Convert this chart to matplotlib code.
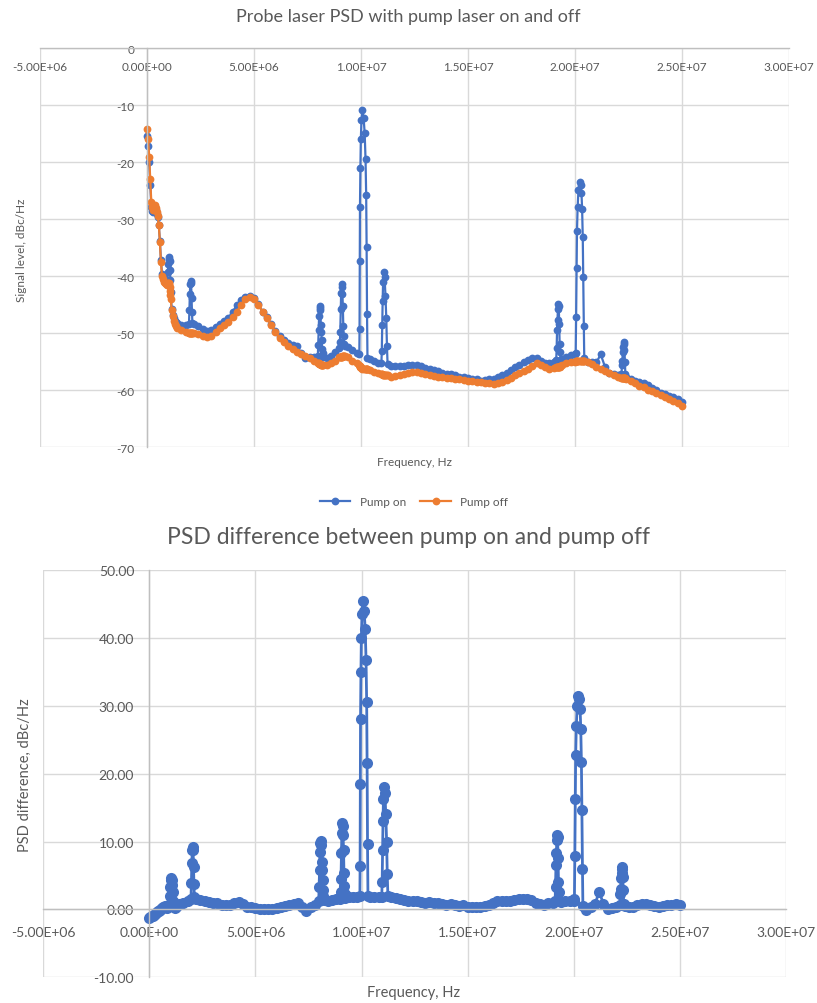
import numpy as np
import matplotlib
matplotlib.use('Agg')
import matplotlib.pyplot as plt

plt.rcParams['font.family'] = ['Lato', 'DejaVu Sans']

#- DATA (frequency in MHz, levels in dBc/Hz)
# low-frequency region, 50 kHz steps
freq_start = np.round(np.arange(0, 1.36, 0.05), 2)
off_start = [-14.2, -16.0, -19.0, -23.0, -27.0, -27.8, -28.3, -27.5, -28.0, -28.8,
             -29.5, -31.0, -34.0, -37.5, -40.0, -40.5, -41.0, -41.2, -41.3, -41.5,
             -41.5, -42.5, -44.5, -46.0, -47.0, -47.8, -48.4, -48.8]
diff_start = [-1.2, -1.1, -1.0, -0.9, -0.8, -0.7, -0.5, -0.4, -0.3, -0.2,
              -0.1, 0.0, 0.2, 0.3, 0.4, 0.5, 0.3, 0.2, 0.5, 0.8,
              1.0, 1.0, 1.0, 0.3, 0.2, 0.4, 0.6, 0.7]

# main region, 200 kHz steps
freq_main = np.round(np.arange(1.4, 25.01, 0.2), 1)
off_main = [-49.0, -49.5, -49.8, -50.0, -50.0, -50.2, -50.5, -50.7, -50.5, -49.8,
            -49.0, -48.5, -48.0, -47.2, -46.2, -45.0, -44.0, -43.7, -44.0, -45.0,
            -46.2, -47.3, -48.5, -49.8, -50.8, -51.6, -52.3, -52.8, -53.3, -53.7,
            -54.0, -54.4, -54.8, -55.2, -55.5, -55.6, -55.3, -54.8, -54.2, -54.0,
            -54.2, -54.8, -55.3, -55.8, -56.0, -56.4, -56.8, -57.0, -57.2, -57.4,
            -57.6, -57.5, -57.3, -57.1, -56.9, -56.8, -56.8, -56.9, -57.1, -57.3,
            -57.5, -57.6, -57.7, -57.8, -57.9, -58.0, -58.1, -58.2, -58.3, -58.4,
            -58.5, -58.6, -58.7, -58.8, -58.9, -58.8, -58.6, -58.2, -57.8, -57.4,
            -57.0, -56.6, -56.2, -55.7, -55.3, -55.6, -56.0, -56.2, -56.1, -55.9,
            -55.6, -55.3, -55.1, -55.0, -54.9, -54.8, -55.0, -55.4, -55.9, -56.3,
            -56.7, -57.0, -57.3, -57.6, -57.8, -58.1, -58.4, -58.8, -59.2, -59.5,
            -59.9, -60.2, -60.5, -60.8, -61.2, -61.6, -61.9, -62.3, -62.7]
diff_main = [0.8, 1.0, 1.3, 1.5, 1.6, 1.4, 1.2, 1.1, 1.0, 0.9,
             0.7, 0.6, 0.7, 1.0, 1.1, 0.8, 0.4, 0.3, 0.2, 0.1,
             0.0, 0.1, 0.1, 0.2, 0.3, 0.5, 0.6, 0.8, 1.0, 0.3,
             -0.3, 0.3, 0.6, 1.0, 1.3, 1.2, 1.4, 1.6, 1.6, 1.7,
             1.8, 1.9, 1.9, 1.9, 1.9, 1.9, 1.9, 1.8, 1.9, 1.9,
             1.9, 1.7, 1.5, 1.4, 1.3, 1.3, 1.2, 1.1, 1.0, 1.1,
             1.0, 0.9, 0.8, 0.7, 0.8, 0.6, 0.5, 0.6, 0.4, 0.3,
             0.4, 0.3, 0.5, 0.7, 0.9, 1.2, 1.3, 1.2, 1.3, 1.4,
             1.5, 1.6, 1.6, 1.4, 1.0, 0.8, 0.7, 0.9, 1.0, 1.1,
             1.1, 1.2, 1.3, 1.3, 1.0, 0.3, -0.1, 0.3, 0.8, 2.6,
             0.8, 0.0, 0.2, 0.3, 0.4, 0.5, 0.4, 0.4, 0.6, 0.8,
             0.8, 0.6, 0.5, 0.4, 0.5, 0.6, 0.7, 0.8, 0.6]

# pump-induced peaks, finer sampling
peak_freq = [
    [0.97, 0.99, 1.01, 1.03, 1.05, 1.07, 1.09, 1.11],
    [1.96, 1.98, 2.00, 2.02, 2.04, 2.06, 2.08, 2.10, 2.12],
    [7.98, 8.00, 8.02, 8.04, 8.06, 8.08, 8.10, 8.12, 8.14, 8.16, 8.18, 8.20, 8.22],
    [8.99, 9.01, 9.03, 9.05, 9.07, 9.09, 9.11, 9.13, 9.15, 9.17, 9.19, 9.21, 9.23],
    [9.92, 9.93, 9.94, 9.95, 9.97, 9.99, 10.02, 10.06, 10.12, 10.17, 10.21, 10.24, 10.26, 10.28, 10.30],
    [10.95, 10.97, 10.99, 11.01, 11.03, 11.06, 11.10, 11.14, 11.18, 11.21, 11.24],
    [19.12, 19.14, 19.16, 19.18, 19.20, 19.22, 19.24, 19.26, 19.28, 19.30, 19.32],
    [20.03, 20.05, 20.07, 20.09, 20.12, 20.16, 20.21, 20.26, 20.30, 20.33, 20.36, 20.38, 20.41, 20.43],
    [22.17, 22.19, 22.21, 22.23, 22.25, 22.27, 22.29, 22.31, 22.33, 22.35],
]
peak_off = [
    [-41.2, -41.2, -41.2, -41.3, -41.8, -42.5, -43.2, -44.0],
    [-49.9, -49.9, -50.0, -50.0, -50.0, -50.0, -50.0, -50.0, -50.0],
    [-55.3, -55.3, -55.3, -55.4, -55.4, -55.4, -55.4, -55.5, -55.5, -55.5, -55.5, -55.5, -55.5],
    [-54.2, -54.2, -54.2, -54.1, -54.1, -54.1, -54.1, -54.0, -54.0, -54.0, -54.0, -54.0, -54.0],
    [-55.6, -55.7, -55.8, -55.9, -56.0, -56.0, -56.1, -56.2, -56.2, -56.2, -56.3, -56.3, -56.3, -56.3, -56.3],
    [-57.2, -57.2, -57.2, -57.3, -57.3, -57.3, -57.3, -57.4, -57.4, -57.4, -57.4],
    [-55.9, -55.9, -55.9, -55.9, -55.9, -55.9, -55.9, -55.9, -55.9, -55.8, -55.8],
    [-54.9, -54.9, -54.9, -54.9, -54.9, -54.9, -54.9, -54.9, -54.9, -54.8, -54.8, -54.8, -54.8, -54.8],
    [-57.8, -57.8, -57.8, -57.8, -57.8, -57.8, -57.8, -57.8, -57.9, -57.9],
]
peak_diff = [
    [2.0, 3.3, 4.3, 4.7, 4.4, 3.6, 2.5, 1.2],
    [1.6, 3.9, 6.9, 8.7, 9.2, 8.8, 6.2, 3.7, 1.8],
    [1.3, 3.3, 5.8, 8.4, 9.8, 10.1, 9.5, 7.0, 5.8, 4.4, 2.8, 2.0, 1.4],
    [1.6, 2.6, 4.5, 8.3, 11.2, 12.7, 12.3, 10.9, 8.7, 5.3, 3.5, 2.2, 1.7],
    [2.0, 6.4, 18.5, 28.0, 35.0, 40.0, 43.5, 45.4, 44.0, 41.3, 36.8, 30.5, 21.5, 9.7, 2.0],
    [1.9, 4.1, 8.7, 13.0, 16.3, 18.0, 17.2, 14.0, 10.0, 5.2, 2.0],
    [1.2, 3.3, 6.5, 8.3, 10.2, 11.0, 10.6, 7.5, 4.0, 2.5, 1.2],
    [1.5, 7.8, 16.3, 22.8, 27.0, 30.0, 31.5, 31.0, 29.5, 26.6, 21.7, 14.7, 6.0, 0.5],
    [0.6, 2.2, 3.0, 4.6, 5.4, 6.2, 5.9, 4.8, 2.8, 0.8],
]

#- MERGE BASELINE AND PEAKS
f_all = np.concatenate([freq_start, freq_main])
off_all = np.array(off_start + off_main)
diff_all = np.array(diff_start + diff_main)
keep = np.ones(len(f_all), bool)
for pf in peak_freq:
    keep &= ~((f_all >= min(pf)) & (f_all <= max(pf)))
f_all = np.concatenate([f_all[keep]] + [np.array(p) for p in peak_freq])
off_all = np.concatenate([off_all[keep]] + [np.array(p) for p in peak_off])
diff_all = np.concatenate([diff_all[keep]] + [np.array(p) for p in peak_diff])
idx = np.argsort(f_all, kind='stable')
freq_hz = f_all[idx] * 1e6
pump_off = off_all[idx]
psd_diff = diff_all[idx]
pump_on = pump_off + psd_diff

blue = '#4472C4'; orange = '#ED7D31'
grid_c = '#D9D9D9'; txt_c = '#595959'
xticks = np.arange(-5e6, 3.01e7, 5e6)
xlabels = ['-5.00E+06', '0.00E+00', '5.00E+06', '1.00E+07', '1.50E+07',
           '2.00E+07', '2.50E+07', '3.00E+07']

def style(ax, yticks, ylabels, fs, xpad, ypad):
    ax.set_xlim(-5e6, 3e7)
    ax.set_ylim(yticks[0], yticks[-1])
    ax.set_xticks(xticks); ax.set_xticklabels(xlabels)
    ax.set_yticks(yticks); ax.set_yticklabels(ylabels)
    ax.grid(True, color=grid_c, lw=1.0)
    ax.set_axisbelow(True)
    for s in ['top', 'right']:
        ax.spines[s].set_visible(False)
    ax.spines['left'].set_position(('data', 0))
    ax.spines['bottom'].set_position(('data', 0))
    for s in ['left', 'bottom']:
        ax.spines[s].set_color('#BFBFBF')
        ax.spines[s].set_linewidth(1.0)
    ax.tick_params(axis='x', length=0, labelsize=fs, labelcolor=txt_c, pad=xpad)
    ax.tick_params(axis='y', length=0, labelsize=fs, labelcolor=txt_c, pad=ypad)
    for lab in ax.get_xticklabels() + ax.get_yticklabels():
        lab.set_clip_on(False)

fig = plt.figure(figsize=(8.17, 10.04), dpi=100)

#- TOP: PSD with pump on/off
ax1 = fig.add_axes([0.049, 0.5535, 0.9168, 0.3974])
ax1.plot(freq_hz, pump_on, '-o', color=blue, ms=5.6, lw=1.6, mew=0, label='Pump on')
ax1.plot(freq_hz, pump_off, '-o', color=orange, ms=5.6, lw=1.6, mew=0, label='Pump off')
style(ax1, np.arange(-70, 1, 10), ['-70', '-60', '-50', '-40', '-30', '-20', '-10', '0'], 8.5, 9, 9)
fig.text(0.5, 0.983, 'Probe laser PSD with pump laser on and off', ha='center', va='center',
         fontsize=13, color=txt_c)
fig.text(414/817, 1-463/1004, 'Frequency, Hz', ha='center', va='center', fontsize=8.5, color=txt_c)
fig.text(22/817, 1-250/1004, 'Signal level, dBc/Hz', ha='center', va='center', rotation=90,
         fontsize=8.5, color=txt_c)
fig.legend(loc='center', bbox_to_anchor=(414/817, 1-503/1004), ncol=2, frameon=False,
           fontsize=8.5, handlelength=2.6, columnspacing=1.2, labelcolor=txt_c)

#- BOTTOM: difference
ax2 = fig.add_axes([0.053, 0.0256, 0.909, 0.4057])
ax2.plot(freq_hz, psd_diff, '-o', color=blue, ms=8, lw=2.0, mew=0)
style(ax2, np.arange(-10, 51, 10), ['-10.00', '0.00', '10.00', '20.00', '30.00', '40.00', '50.00'],
      10, 12, 11)
fig.text(0.5, 0.465, 'PSD difference between pump on and pump off', ha='center', va='center',
         fontsize=16.5, color=txt_c)
fig.text(414/817, 1-993/1004, 'Frequency, Hz', ha='center', va='center', fontsize=10.5, color=txt_c)
fig.text(25/817, 1-775/1004, 'PSD difference, dBc/Hz', ha='center', va='center', rotation=90,
         fontsize=10.5, color=txt_c)

fig.savefig('out.png', dpi=100)
